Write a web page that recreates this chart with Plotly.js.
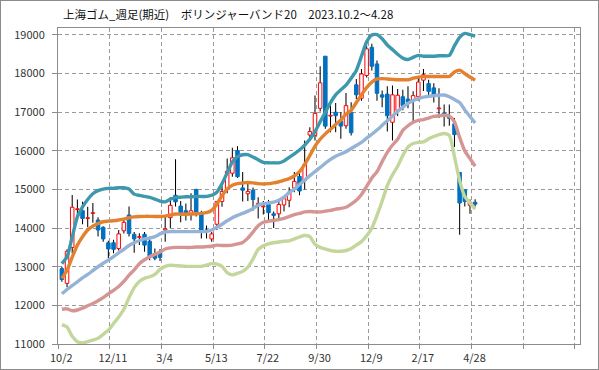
<!DOCTYPE html>
<html><head><meta charset="utf-8">
<script src="https://cdn.plot.ly/plotly-3.0.1.min.js"></script>
<style>
html,body{margin:0;padding:0;background:#fff}
#wrap{width:599px;height:370px;box-sizing:border-box;border:1px solid #8c8c8c;}
#chart{width:597px;height:368px}
</style>
</head><body><div id="wrap"><div id="chart"></div></div>
<script>
const chartTitle = '上海ゴム_週足(期近)　ボリンジャーバンド20　2023.10.2～4.28';
const tickLabels = ['10/2','12/11','3/4','5/13','7/22','9/30','12/9','2/17','4/28','',''];

const openP = [12950,12570,13500,14480,14450,14250,14380,14210,14020,13620,
 13620,13470,13930,14340,13840,13760,13840,13660,13340,13390,
 13950,14270,14850,14570,14450,14380,15000,14400,13950,13720,
 14100,14690,15010,15420,16010,15040,14890,14980,14590,14550,
 14610,14370,14370,14600,14720,15040,15340,15230,16410,16400,
 17100,18450,16900,17000,16770,16650,17000,17710,17360,17950,
 18680,18250,17450,17470,16740,17050,17400,17340,17310,17400,
 17830,17740,17630,17090,16980,16880,16700,15440,14990,14590,14670];
const highP = [13000,13450,14860,14740,14680,14550,14650,14280,14050,13670,
 13700,13950,14250,14560,13900,13870,13900,13780,13470,13460,
 14290,14800,15780,14700,14640,14900,15020,14450,14070,13900,
 14700,15100,15800,16080,16120,15450,15150,15050,14800,14700,
 14730,14430,14700,14830,15060,15450,15490,16270,16610,17430,
 18190,18450,17220,17240,17000,17500,17260,17860,18120,18720,
 18770,18340,17560,17670,17690,17600,17580,17670,17540,17930,
 18120,17840,17750,17620,17200,17200,16850,15440,14990,14740,14750];
const lowP = [12610,12470,13350,14290,14100,14020,14140,13780,13650,13220,
 13350,13420,13860,13780,13360,13560,13390,13170,13170,13150,
 13650,14000,14560,14150,14200,14200,14300,13730,13730,13650,
 13950,14550,14900,15330,15300,14690,14700,14450,14250,14350,
 14170,14000,14200,14430,14540,14930,14850,15000,16310,16270,
 17020,16570,16480,16480,16310,16570,16400,17340,17300,17900,
 18080,17300,17130,16500,16270,16900,17050,17100,16760,17300,
 17550,17370,17250,16850,16630,16650,16100,13830,14560,14370,14560];
const closeP = [12670,13400,14540,14500,14250,14270,14400,13950,13720,13460,
 13450,13850,14150,13860,13720,13780,13560,13250,13220,13240,
 13980,14590,14680,14400,14380,14450,14400,13920,13900,13850,
 14690,14950,15470,15820,15330,14980,14950,14740,14640,14570,
 14400,14330,14610,14760,14930,15210,14960,15650,16500,16970,
 17760,16640,16920,16910,16640,17170,16470,17450,17990,18640,
 18190,17490,17390,16910,17450,17440,17170,17260,17430,17780,
 17970,17540,17430,17110,16940,16840,16420,14650,14690,14670,14620];

const bandPlus2 = [13080,13260,13770,14290,14550,14740,14890,14970,15010,15030,
 15030,15045,15045,15010,14880,14846,14820,14794,14751,14700,
 14680,14750,14790,14800,14810,14810,14820,14820,14820,14850,
 14930,15150,15430,15710,15850,15900,15900,15840,15770,15700,
 15690,15690,15690,15740,15830,15920,16020,16150,16300,16500,
 16750,17000,17250,17450,17580,17700,17880,18080,18450,18820,
 19000,19010,18900,18740,18620,18500,18400,18365,18420,18470,
 18450,18450,18450,18460,18460,18470,18720,18940,19040,19010,18970];
const bandPlus1 = [12700,12910,13250,13560,13775,13950,14050,14120,14165,14180,
 14190,14210,14233,14268,14290,14300,14305,14305,14300,14300,
 14310,14340,14365,14360,14360,14365,14370,14380,14400,14460,
 14620,14840,15010,15110,15150,15170,15180,15170,15150,15140,
 15150,15170,15200,15240,15280,15350,15460,15650,15880,16120,
 16300,16440,16560,16680,16800,16950,17050,17250,17450,17640,
 17780,17860,17870,17860,17850,17840,17840,17840,17880,17910,
 17920,17925,17925,17925,17925,17925,18040,18090,18000,17910,17830];
const bandMid = [12300,12410,12510,12610,12710,12800,12900,13000,13090,13170,
 13260,13360,13450,13550,13620,13680,13720,13740,13780,13850,
 13900,13910,13910,13910,13910,13910,13910,13910,13910,13950,
 14020,14100,14190,14270,14330,14380,14440,14510,14590,14630,
 14650,14670,14720,14800,14920,15010,15130,15240,15360,15460,
 15570,15680,15780,15860,15920,15980,16060,16140,16220,16330,
 16430,16540,16660,16780,16900,17020,17130,17230,17300,17350,
 17390,17410,17430,17440,17445,17400,17330,17250,17060,16890,16720];
const bandMinus1 = [11900,11910,11860,11880,11930,11990,12050,12120,12200,12300,
 12390,12490,12620,12780,12920,13080,13180,13260,13320,13380,
 13460,13490,13500,13500,13500,13500,13510,13510,13520,13530,
 13560,13550,13550,13560,13590,13630,13740,13900,14060,14150,
 14180,14200,14220,14250,14300,14350,14380,14420,14430,14420,
 14420,14440,14460,14490,14510,14540,14620,14720,14870,15080,
 15300,15460,15720,15960,16150,16300,16530,16650,16740,16790,
 16810,16850,16890,16910,16920,16900,16750,16350,16000,15800,15600];
const bandMinus2 = [11500,11440,11200,11060,11030,11060,11100,11150,11250,11360,
 11530,11700,11900,12200,12460,12620,12700,12740,12800,12930,
 13010,13040,13030,13020,13010,13010,13010,13010,13040,13080,
 13070,13010,12850,12790,12830,12880,12990,13200,13450,13540,
 13590,13620,13640,13660,13670,13720,13770,13810,13780,13580,
 13500,13460,13420,13400,13400,13420,13470,13560,13650,13800,
 14000,14330,14700,15100,15380,15600,15880,16100,16190,16220,
 16230,16310,16370,16420,16450,16400,15850,15230,14820,14650,14490];

const weekIdx = openP.map((_, i) => i);
const isUp = openP.map((o, i) => closeP[i] >= o);

const wicks = {
  type: 'bar', x: weekIdx, base: lowP, y: highP.map((h, i) => h - lowP[i]),
  width: 0.2, marker: {color: '#000', line: {width: 0}}, hoverinfo: 'skip'
};
const bodies = {
  type: 'bar', x: weekIdx,
  base: openP.map((o, i) => Math.min(o, closeP[i])),
  y: openP.map((o, i) => Math.max(Math.abs(closeP[i] - o), 15)),
  width: 0.68,
  marker: {
    color: isUp.map(u => u ? '#ffffff' : '#0070C0'),
    line: {color: isUp.map(u => u ? '#FF0000' : '#0070C0'), width: 1}
  }
};
function band(y, color) {
  return {type: 'scatter', mode: 'lines', x: weekIdx, y: y,
    line: {color: color, width: 3.4, shape: 'spline', smoothing: 0.6}, hoverinfo: 'skip'};
}
const traces = [
  wicks, bodies,
  band(bandMinus2, '#C3D69B'),
  band(bandMinus1, '#D59593'),
  band(bandMid, '#95B3D7'),
  band(bandPlus1, '#E3812F'),
  band(bandPlus2, '#3D98AD')
];

const gridTicks = tickLabels.map((_, k) => k * 10 - 0.7);
const yTicks = [11000,12000,13000,14000,15000,16000,17000,18000,19000];

const layout = {
  width: 597, height: 368,
  margin: {l: 57, r: 18, t: 27, b: 25},
  paper_bgcolor: '#fff', plot_bgcolor: '#fff',
  font: {family: '"Noto Sans CJK JP", "DejaVu Sans", sans-serif', size: 11, color: '#333'},
  showlegend: false, barmode: 'overlay',
  title: {text: chartTitle, xref: 'container', yref: 'container',
    x: 62/597, xanchor: 'left', y: 1 - 14/368, yanchor: 'middle',
    font: {size: 11.5, color: '#111'}},
  xaxis: {range: [-0.75, 100.3], tickmode: 'array', tickvals: gridTicks, ticktext: tickLabels,
    showgrid: true, gridcolor: '#9a9a9a', griddash: '4px,3px', gridwidth: 1,
    showline: true, mirror: true, linecolor: '#8c8c8c', linewidth: 1,
    ticks: 'outside', ticklen: 4, tickcolor: '#8c8c8c', ticklabelshift: 3,
    zeroline: false, fixedrange: true},
  yaxis: {range: [11000, 19180], tickmode: 'array', tickvals: yTicks,
    ticktext: yTicks.map(String),
    showgrid: true, gridcolor: '#9a9a9a', griddash: '4px,3px', gridwidth: 1,
    showline: true, mirror: true, linecolor: '#8c8c8c', linewidth: 1,
    ticks: 'outside', ticklen: 5, tickcolor: '#8c8c8c', ticklabelstandoff: 5,
    zeroline: false, fixedrange: true}
};
Plotly.newPlot('chart', traces, layout, {displayModeBar: false, staticPlot: true});
</script>
</body></html>
